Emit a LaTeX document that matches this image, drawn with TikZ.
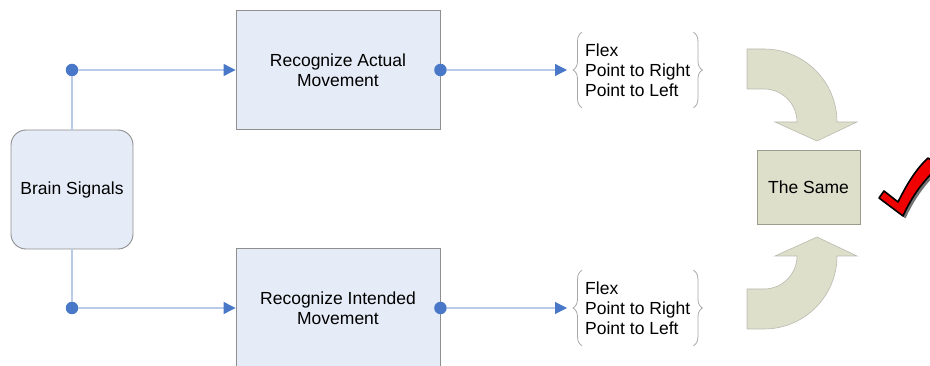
\documentclass[tikz,border=0pt]{standalone}
\usepackage{fontspec}
\setmainfont{Liberation Sans}
\usetikzlibrary{arrows.meta,decorations.pathreplacing}
\definecolor{boxfill}{HTML}{E6ECF7}
\definecolor{boxline}{HTML}{8E8E8E}
\definecolor{connline}{HTML}{B9CBE8}
\definecolor{dotblue}{HTML}{4A78C8}
\definecolor{samefill}{HTML}{DDDFCB}
\definecolor{sameline}{HTML}{9C9C8C}
\definecolor{bracegray}{HTML}{A8A8A8}
\definecolor{checkred}{HTML}{F00000}
\tikzset{
  box/.style={draw=boxline, fill=boxfill, line width=0.9pt, align=center},
  dotnode/.style={circle, fill=dotblue, inner sep=0pt, minimum size=12.5pt},
  conn/.style={draw=connline, line width=1.1pt},
  connarrow/.style={conn, -{Triangle[length=12pt,width=12pt,color=dotblue]}},
  listnode/.style={align=left, inner xsep=3pt, inner ysep=0pt, minimum height=75pt, anchor=west},
  bracestyle/.style={draw=bracegray, line width=0.8pt, decorate, decoration={brace, amplitude=9pt}},
  bigarrow/.style={fill=samefill, draw=sameline!70, line width=0.6pt},
}
\begin{document}
\begin{tikzpicture}[x=1pt, y=-1pt, font=\fontsize{17.5}{20}\selectfont]
\useasboundingbox (0,0) rectangle (930,366);
\clip (0,0) rectangle (930,366);

% main nodes
\node[box, rounded corners=15pt, minimum width=122pt, minimum height=119pt] (brain) at (72,189.5) {Brain Signals};
\node[box, minimum width=204pt, minimum height=119pt] (actual) at (338,70) {Recognize Actual\\Movement};
\node[box, minimum width=204pt, minimum height=119pt] (intended) at (338,308) {Recognize Intended\\Movement};

% dots
\node[dotnode] (d1) at (72,70) {};
\node[dotnode] (d2) at (72,308) {};

% connectors from brain
\draw[conn] (brain.north) -- (d1);
\draw[conn] (brain.south) -- (d2);
\draw[connarrow] (d1) -- (actual.west);
\draw[connarrow] (d2) -- (intended.west);

% lists
\node[listnode] (la) at (582,70) {Flex\\Point to Right\\Point to Left};
\node[listnode] (lb) at (582,308) {Flex\\Point to Right\\Point to Left};
\draw[bracestyle] (la.south west) -- (la.north west);
\draw[bracestyle] (la.north east) -- (la.south east);
\draw[bracestyle] (lb.south west) -- (lb.north west);
\draw[bracestyle] (lb.north east) -- (lb.south east);

% right dots and arrows to lists
\node[dotnode] (r1) at (actual.east) {};
\node[dotnode] (r2) at (intended.east) {};
\draw[connarrow, shorten >=15pt] (r1) -- (la.west);
\draw[connarrow, shorten >=15pt] (r2) -- (lb.west);

% the same
\node[draw=sameline, fill=samefill, line width=0.9pt, minimum width=103pt, minimum height=74pt] (same) at (808.5,187) {The Same};

% curved arrows
\draw[bigarrow] (747,49) -- (764,49) .. controls (804.3,49) and (837,81.7) .. (837,122)
  -- (857,122) -- (817,141) -- (775,122) -- (797,122)
  .. controls (797,103.8) and (782.2,89) .. (764,89) -- (747,89) -- cycle;
\draw[bigarrow] (747,329) -- (764,329) .. controls (804.3,329) and (837,296.3) .. (837,256)
  -- (857,256) -- (817,237) -- (775,256) -- (797,256)
  .. controls (797,274.2) and (782.2,289) .. (764,289) -- (747,289) -- cycle;

% check mark
\fill[black!55, shift={(2.5,2.5)}] (879,198) -- (884,191) -- (898,202)
  .. controls (906,186) and (915,170) .. (928,158) -- (940,166)
  .. controls (925,178) and (912,196) .. (903,216) -- cycle;
\draw[black, fill=checkred, line width=1.6pt, line join=round] (879,198) -- (884,191) -- (898,202)
  .. controls (906,186) and (915,170) .. (928,158) -- (940,166)
  .. controls (925,178) and (912,196) .. (903,216) -- cycle;
\end{tikzpicture}
\end{document}
